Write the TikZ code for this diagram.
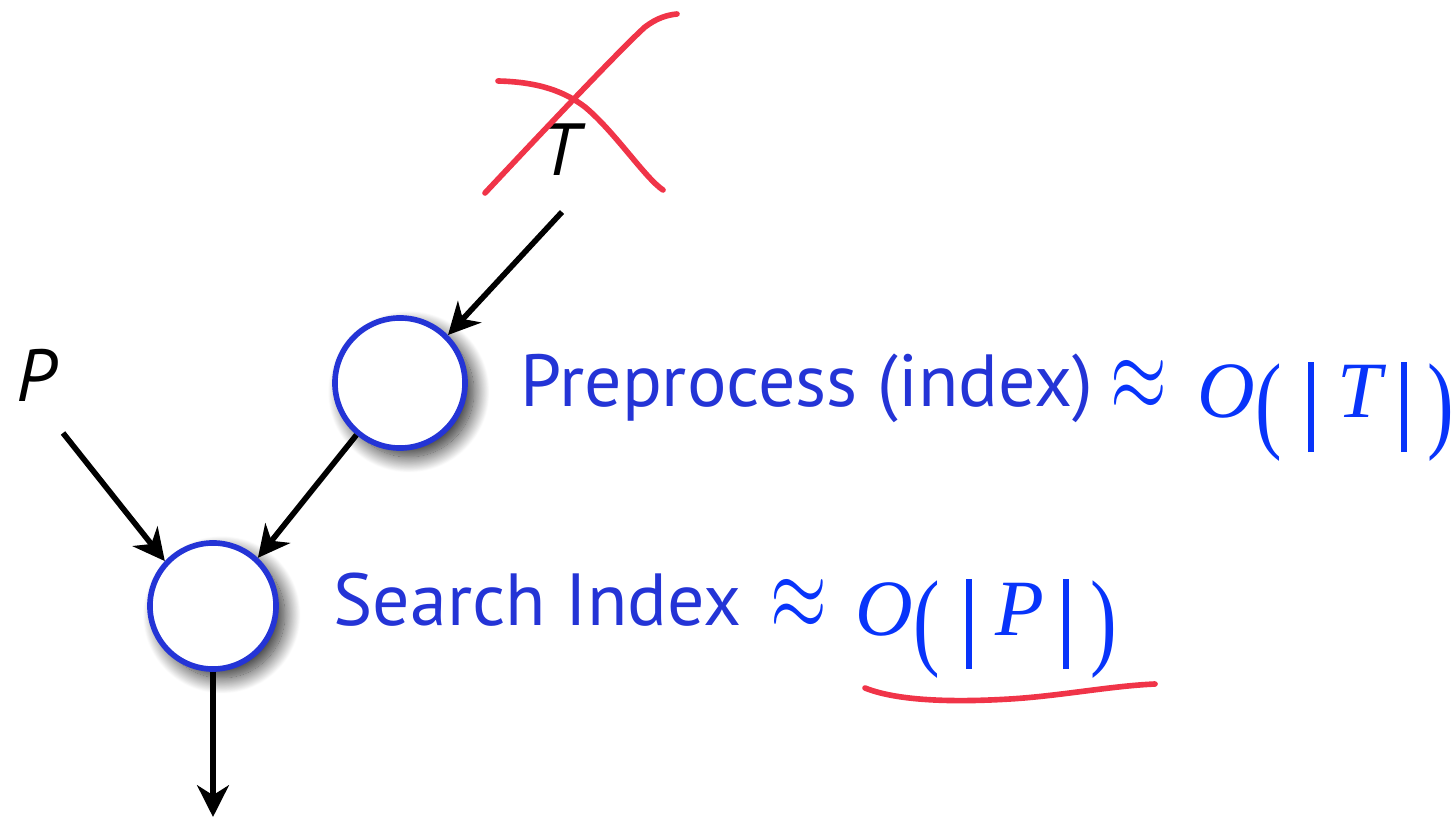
\documentclass[tikz,border=0pt]{standalone}
\usepackage{fontspec}
\setmainfont{PT Sans}
\newfontfamily\serifm{Liberation Serif}
\usetikzlibrary{arrows.meta,shadows.blur}
\definecolor{nodeblue}{RGB}{36,52,214}
\definecolor{mathblue}{RGB}{8,52,250}
\definecolor{inkred}{RGB}{240,52,72}

% O(|x|) with tall delimiters, set in a Times-like serif
\newcommand\bigparen[1]{\raisebox{-5.7pt}{\scalebox{1}[1.35]{\serifm #1}}}
\newcommand\bigbar{\rule[-9.7pt]{1.7pt}{25.6pt}}
\newcommand\costof[1]{{\serifm\itshape O}\bigparen{(}\kern7.5pt\bigbar\kern6.5pt{\serifm\itshape #1}\kern5.5pt\bigbar\kern6pt\bigparen{)}}
\newcommand\approxsign{\scalebox{1}[1.45]{$\approx$}}

\begin{document}
\begin{tikzpicture}[x=0.01cm,y=-0.01cm,
  stage/.style={circle, draw=nodeblue, line width=1.6pt, fill=white, inner sep=0pt,
    blur shadow={shadow xshift=2.5pt, shadow yshift=-2.5pt, shadow blur radius=4.5pt,
      shadow blur steps=24, shadow opacity=85}},
  flow/.style={draw=black, line width=1.6pt, -{Stealth[length=9pt,width=9pt,inset=2.8pt]}},
  ink/.style={draw=inkred, line width=1.6pt, line cap=round, line join=round},
  inputlabel/.style={font=\fontsize{21}{25}\selectfont\itshape, text=black, inner sep=0pt},
  steplabel/.style={font=\fontsize{21}{25}\selectfont, text=nodeblue, inner sep=0pt, anchor=base west},
  costlabel/.style={font=\fontsize{22.7}{27}\selectfont, text=mathblue, inner sep=0pt, anchor=base west}]
  \useasboundingbox (0,0) rectangle (1455,819);

  % processing stages
  \node[stage, minimum size=1.30cm] (pre) at (400,383) {};
  \node[stage, minimum size=1.26cm] (srch) at (213,606) {};

  % inputs
  \node[inputlabel] (T) at (560,150) {T};
  \node[inputlabel] (P) at (36,375) {P};
  \coordinate (tin) at (562,212);
  \coordinate (pin) at (63,433);
  \coordinate (out) at (213,817);

  % connectors
  \draw[flow] (tin) -- (pre.45);
  \draw[flow] (pin) -- (srch.137);
  \draw[flow] (pre.230) -- (srch.47);
  \draw[flow] (srch.south) -- (out);

  % stage descriptions
  \node[steplabel] (pretext) at (520,407) {Preprocess (index)};
  \node[costlabel] (preapprox) at (1110,412) {\approxsign};
  \node[costlabel] (precost) at (1197,418) {\costof{T}};
  \node[steplabel] (srchtext) at (333,625) {Search Index};
  \node[costlabel] (srchapprox) at (770,630) {\approxsign};
  \node[costlabel] (srchcost) at (855,635) {\costof{P}};

  % hand-drawn marks: crossed-out T and underlined cost
  \path[ink] (485,193) .. controls (560,113) and (625,45) .. (645,27)
             .. controls (657,18) and (667,15) .. (677,14);
  \path[ink] (498,81) .. controls (540,82) and (565,92) .. (585,107)
             .. controls (615,132) and (645,178) .. (663,190);
  \path[ink] (865,688) .. controls (900,702) and (960,702) .. (1010,699)
             .. controls (1060,696) and (1110,686) .. (1155,684);
\end{tikzpicture}
\end{document}
